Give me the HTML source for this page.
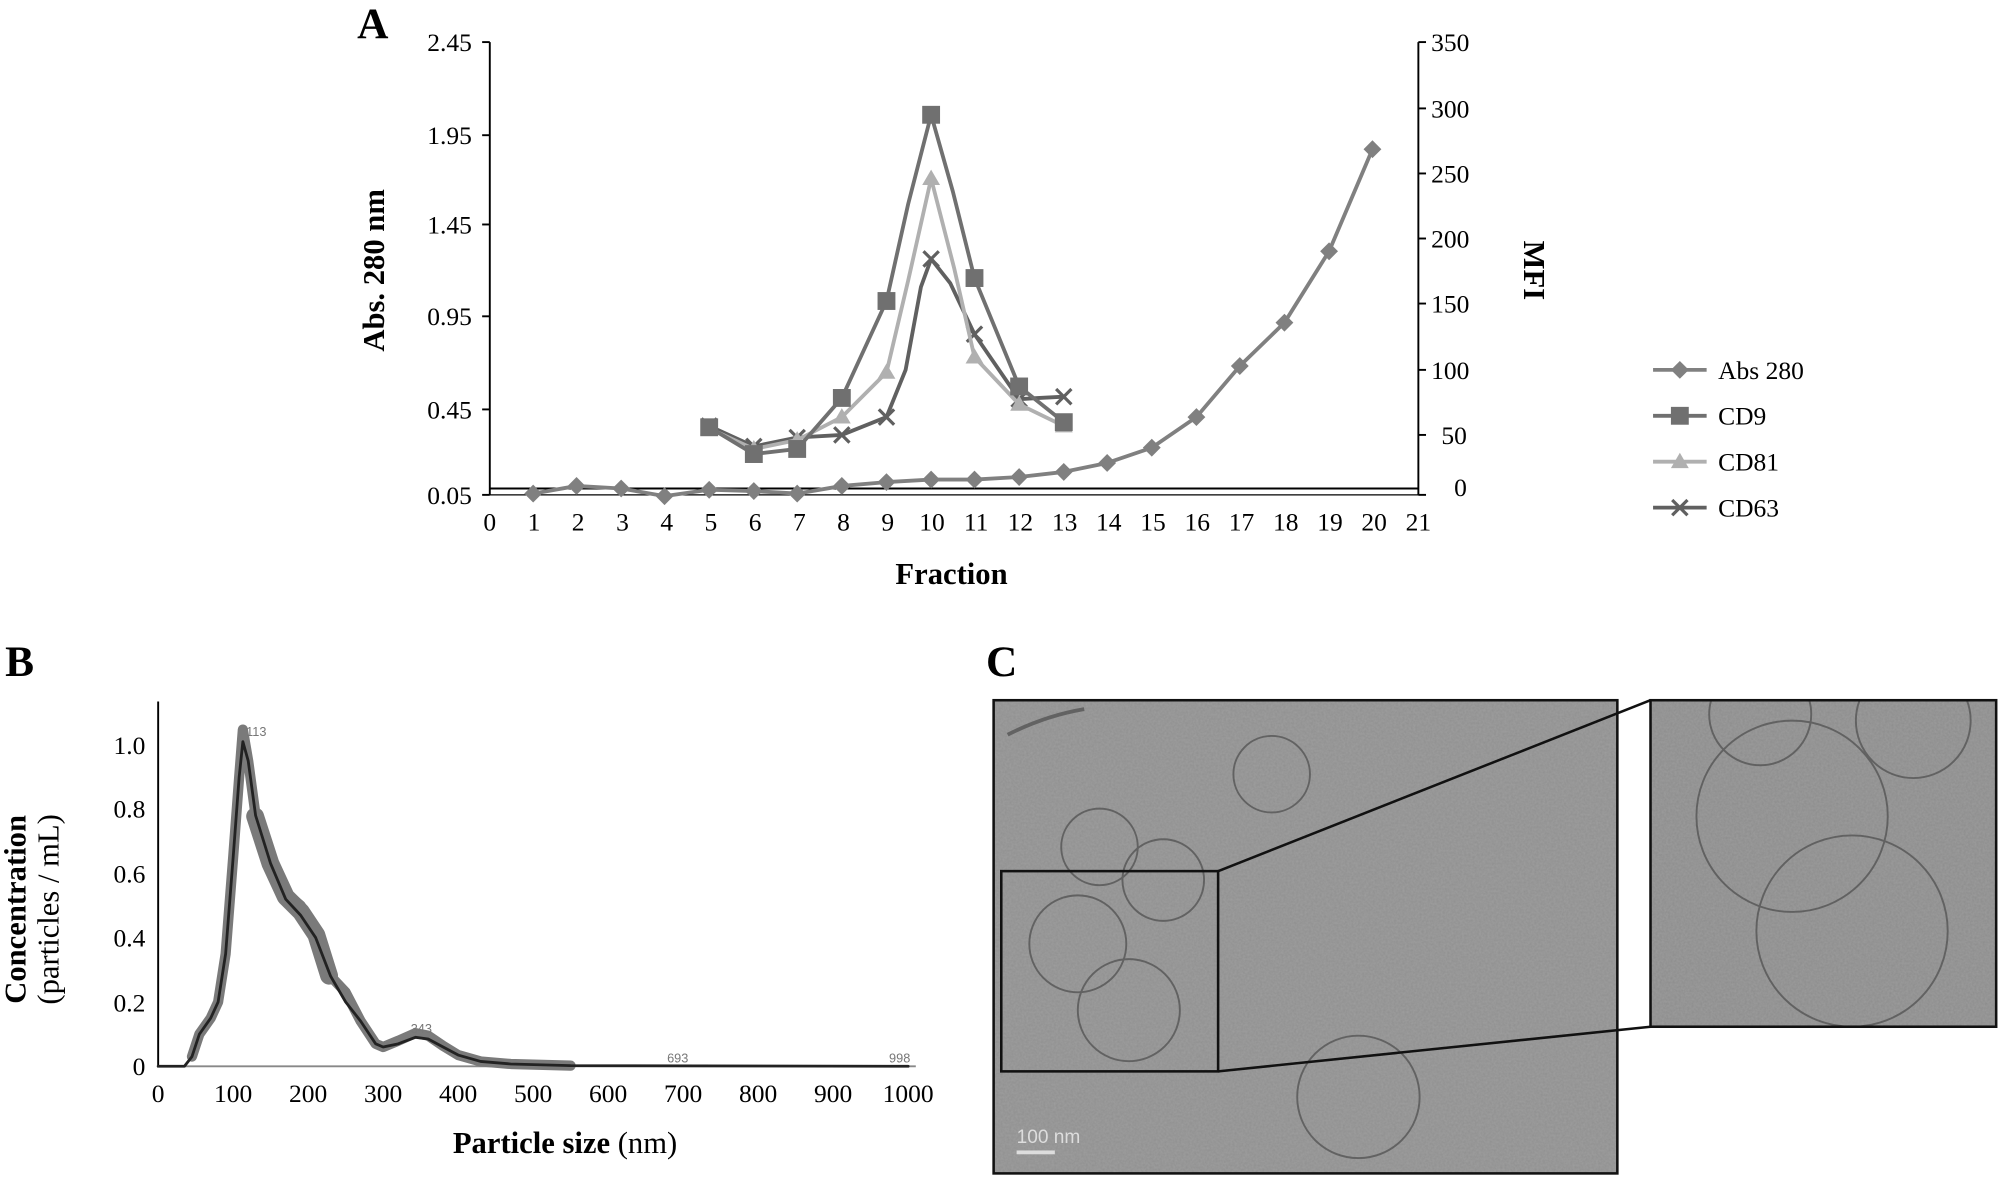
<!DOCTYPE html>
<html><head><meta charset="utf-8"><style>
html,body{margin:0;padding:0;background:#fff}
svg{display:block}
text{font-family:"Liberation Serif",serif}
</style></head><body>
<svg width="2000" height="1178" viewBox="0 0 1568 923.6" preserveAspectRatio="none" xmlns="http://www.w3.org/2000/svg">
<defs>
<filter id="noise" x="0" y="0" width="100%" height="100%">
<feTurbulence type="fractalNoise" baseFrequency="0.6" numOctaves="2" seed="3"/>
<feColorMatrix type="matrix" values="0 0 0 0 0.5  0 0 0 0 0.5  0 0 0 0 0.5  0 0 0 0.35 0"/>
</filter>
<clipPath id="c1"><rect x="779" y="549" width="489" height="371"/></clipPath>
<clipPath id="c2"><rect x="1294" y="549" width="271" height="256"/></clipPath>
</defs>
<!-- Panel A -->
<text x="280" y="30" font-size="34" font-weight="bold">A</text>
<g stroke="#000" stroke-width="1.5" fill="none">
<line x1="384" y1="33" x2="384" y2="388"/>
<line x1="1112" y1="33" x2="1112" y2="388"/>
<line x1="384" y1="383" x2="1112" y2="383"/>
<line x1="384" y1="388" x2="1112" y2="388" stroke-width="1"/>
<line x1="378" y1="33" x2="384" y2="33"/><line x1="378" y1="106" x2="384" y2="106"/><line x1="378" y1="176" x2="384" y2="176"/><line x1="378" y1="248" x2="384" y2="248"/><line x1="378" y1="321" x2="384" y2="321"/><line x1="378" y1="388" x2="384" y2="388"/>
<line x1="1112" y1="33" x2="1118" y2="33"/><line x1="1112" y1="85" x2="1118" y2="85"/><line x1="1112" y1="136" x2="1118" y2="136"/><line x1="1112" y1="187" x2="1118" y2="187"/><line x1="1112" y1="238" x2="1118" y2="238"/><line x1="1112" y1="290" x2="1118" y2="290"/><line x1="1112" y1="341" x2="1118" y2="341"/><line x1="1112" y1="388" x2="1118" y2="388"/>
</g>
<g font-size="20" text-anchor="end">
<text x="370" y="40">2.45</text><text x="370" y="113">1.95</text><text x="370" y="183">1.45</text><text x="370" y="255">0.95</text><text x="370" y="328">0.45</text><text x="370" y="395">0.05</text>
</g>
<g font-size="20" text-anchor="start">
<text x="1122" y="40">350</text><text x="1122" y="92">300</text><text x="1122" y="143">250</text><text x="1122" y="194">200</text><text x="1122" y="245">150</text><text x="1122" y="297">100</text><text x="1130" y="348">50</text><text x="1140" y="389">0</text>
</g>
<g font-size="20" text-anchor="middle">
<text x="384" y="416">0</text><text x="418.7" y="416">1</text><text x="453.3" y="416">2</text><text x="488" y="416">3</text><text x="522.7" y="416">4</text><text x="557.3" y="416">5</text><text x="592" y="416">6</text><text x="626.7" y="416">7</text><text x="661.3" y="416">8</text><text x="696" y="416">9</text><text x="730.7" y="416">10</text><text x="765.3" y="416">11</text><text x="800" y="416">12</text><text x="834.7" y="416">13</text><text x="869.3" y="416">14</text><text x="904" y="416">15</text><text x="938.7" y="416">16</text><text x="973.3" y="416">17</text><text x="1008" y="416">18</text><text x="1042.7" y="416">19</text><text x="1077.3" y="416">20</text><text x="1112" y="416">21</text>
</g>
<text x="746" y="458" font-size="24" font-weight="bold" text-anchor="middle">Fraction</text>
<text transform="translate(301,212) rotate(-90)" font-size="24" font-weight="bold" text-anchor="middle">Abs. 280 nm</text>
<text transform="translate(1195,212) rotate(90)" font-size="24" font-weight="bold" text-anchor="middle">MFI</text>
<!-- Abs 280 -->
<polyline fill="none" stroke="#808080" stroke-width="3" stroke-linejoin="round" points="418,387 452,381 487,383 521,389 556,384 591,385 625,387 660,381 695,378 730,376 764,376 799,374 834,370 868,363 903,351 938,327 972,287 1007,253 1042,197 1076,117"/>
<g fill="#808080">
<path d="M418,380 l7,7 l-7,7 l-7,-7z M452,374 l7,7 l-7,7 l-7,-7z M487,376 l7,7 l-7,7 l-7,-7z M521,382 l7,7 l-7,7 l-7,-7z M556,377 l7,7 l-7,7 l-7,-7z M591,378 l7,7 l-7,7 l-7,-7z M625,380 l7,7 l-7,7 l-7,-7z M660,374 l7,7 l-7,7 l-7,-7z M695,371 l7,7 l-7,7 l-7,-7z M730,369 l7,7 l-7,7 l-7,-7z M764,369 l7,7 l-7,7 l-7,-7z M799,367 l7,7 l-7,7 l-7,-7z M834,363 l7,7 l-7,7 l-7,-7z M868,356 l7,7 l-7,7 l-7,-7z M903,344 l7,7 l-7,7 l-7,-7z M938,320 l7,7 l-7,7 l-7,-7z M972,280 l7,7 l-7,7 l-7,-7z M1007,246 l7,7 l-7,7 l-7,-7z M1042,190 l7,7 l-7,7 l-7,-7z M1076,110 l7,7 l-7,7 l-7,-7z"/>
</g>
<!-- CD63 -->
<polyline fill="none" stroke="#606060" stroke-width="3" stroke-linejoin="round" points="556,334 591,350 625,343 660,341 695,327 710,290 722,225 730,203 745,222 764,262 799,313 815,312 834,311"/>
<g stroke="#606060" stroke-width="2.5">
<path d="M550,328l12,12M562,328l-12,12 M585,344l12,12M597,344l-12,12 M619,337l12,12M631,337l-12,12 M654,335l12,12M666,335l-12,12 M689,321l12,12M701,321l-12,12 M724,197l12,12M736,197l-12,12 M758,256l12,12M770,256l-12,12 M793,307l12,12M805,307l-12,12 M828,305l12,12M840,305l-12,12"/>
</g>
<!-- CD81 -->
<polyline fill="none" stroke="#b0b0b0" stroke-width="3" stroke-linejoin="round" points="556,336 591,352 625,345 660,327 695,292 712,220 730,140 748,210 764,280 799,317 834,334"/>
<g fill="#b0b0b0">
<path d="M556,329l7,12h-14z M591,345l7,12h-14z M625,338l7,12h-14z M660,320l7,12h-14z M695,285l7,12h-14z M730,133l7,12h-14z M764,273l7,12h-14z M799,310l7,12h-14z M834,327l7,12h-14z"/>
</g>
<!-- CD9 -->
<polyline fill="none" stroke="#707070" stroke-width="3" stroke-linejoin="round" points="556,335 591,356 625,352 660,312 695,236 712,160 730,90 747,150 764,218 799,303 834,331"/>
<g fill="#707070">
<rect x="549" y="328" width="14" height="14"/><rect x="584" y="349" width="14" height="14"/><rect x="618" y="345" width="14" height="14"/><rect x="653" y="305" width="14" height="14"/><rect x="688" y="229" width="14" height="14"/><rect x="723" y="83" width="14" height="14"/><rect x="757" y="211" width="14" height="14"/><rect x="792" y="296" width="14" height="14"/><rect x="827" y="324" width="14" height="14"/>
</g>
<!-- Legend -->
<g stroke-width="3">
<line x1="1296" y1="290" x2="1338" y2="290" stroke="#808080"/>
<line x1="1296" y1="326" x2="1338" y2="326" stroke="#707070"/>
<line x1="1296" y1="362" x2="1338" y2="362" stroke="#b0b0b0"/>
<line x1="1296" y1="398" x2="1338" y2="398" stroke="#606060"/>
</g>
<path d="M1317,283l7,7l-7,7l-7,-7z" fill="#808080"/>
<rect x="1310" y="319" width="14" height="14" fill="#707070"/>
<path d="M1317,355l7,12h-14z" fill="#b0b0b0"/>
<path d="M1311,392l12,12M1323,392l-12,12" stroke="#606060" stroke-width="2.5"/>
<g font-size="20"><text x="1347" y="297">Abs 280</text><text x="1347" y="333">CD9</text><text x="1347" y="369">CD81</text><text x="1347" y="405">CD63</text></g>

<!-- Panel B -->
<text x="4" y="530" font-size="34" font-weight="bold">B</text>
<g stroke="#000" stroke-width="1.5"><line x1="124" y1="550" x2="124" y2="837"/><line x1="124" y1="836" x2="718" y2="836" stroke="#888"/></g>
<g font-size="20" text-anchor="end">
<text x="114" y="591">1.0</text><text x="114" y="641">0.8</text><text x="114" y="692">0.6</text><text x="114" y="742">0.4</text><text x="114" y="793">0.2</text><text x="114" y="843">0</text>
</g>
<g font-size="20" text-anchor="middle">
<text x="124" y="864">0</text><text x="182.8" y="864">100</text><text x="241.6" y="864">200</text><text x="300.4" y="864">300</text><text x="359.2" y="864">400</text><text x="418" y="864">500</text><text x="476.8" y="864">600</text><text x="535.6" y="864">700</text><text x="594.4" y="864">800</text><text x="653.2" y="864">900</text><text x="712" y="864">1000</text>
</g>
<g fill="none" stroke-linejoin="round" stroke-linecap="round">
<polyline stroke="#7a7a7a" stroke-width="8" points="150.5,828.4 156.3,810.8 165.2,798.2 171,785.6 176.9,747.8 182.8,672.2 187.5,609.2 190.4,572 194.6,596.6 200.4,639.4 212.2,677.2 224,700 235.7,710 247.5,728 259.2,765.4 271,778 282.8,800.7 294.5,818.4 300.4,820.9 312.2,816 325.7,810 335.7,812 347.4,820 359.2,827.2 376.8,832.2 400.4,834.2 447.4,835.5"/>
<polyline stroke="#7a7a7a" stroke-width="14" points="200,640 212,677 224,703 236,715 248,733 258,765"/>
<polyline stroke="#222" stroke-width="2.2" points="124,836 144.6,836 150.5,828.4 156.3,810.8 165.2,798.2 171,785.6 176.9,747.8 182.8,672.2 187.5,609.2 190.4,581.5 194.6,596.6 200.4,639.4 212.2,677.2 224,705 235.7,717.6 247.5,735.2 259.2,765.4 271,785.6 282.8,800.7 294.5,818.4 300.4,820.9 312.2,818.4 325.7,813.3 335.7,814.6 347.4,820.9 359.2,827.2 376.8,832.2 400.4,834.2 447.4,835.5 712,836"/>
</g>
<g font-size="10" fill="#777">
<text x="193" y="577" style="font-family:'Liberation Sans',sans-serif">113</text>
<text x="322" y="810" style="font-family:'Liberation Sans',sans-serif">343</text>
<text x="523" y="833" style="font-family:'Liberation Sans',sans-serif">693</text>
<text x="697" y="833" style="font-family:'Liberation Sans',sans-serif">998</text>
</g>
<text transform="translate(20,713) rotate(-90)" font-size="24" font-weight="bold" text-anchor="middle">Concentration</text>
<text transform="translate(46,713) rotate(-90)" font-size="24" text-anchor="middle">(particles / mL)</text>
<text x="443" y="904" font-size="24" text-anchor="middle"><tspan font-weight="bold">Particle size</tspan> (nm)</text>

<!-- Panel C -->
<text x="773" y="530" font-size="34" font-weight="bold">C</text>
<rect x="779" y="549" width="489" height="371" fill="#8f8f8f"/>
<rect x="779" y="549" width="489" height="371" filter="url(#noise)"/>
<rect x="1294" y="549" width="271" height="256" fill="#8c8c8c"/>
<rect x="1294" y="549" width="271" height="256" filter="url(#noise)"/>
<g fill="none" stroke="#555" stroke-width="1.5" opacity="0.8" clip-path="url(#c1)">
<circle cx="997" cy="607" r="30"/><circle cx="862" cy="664" r="30"/><circle cx="912" cy="690" r="32"/>
<circle cx="845" cy="740" r="38"/><circle cx="885" cy="792" r="40"/><circle cx="1065" cy="860" r="48"/>
<path d="M790,576 q30,-15 60,-20" stroke-width="3"/>
</g>
<g fill="none" stroke="#555" stroke-width="1.5" opacity="0.8" clip-path="url(#c2)">
<circle cx="1405" cy="640" r="75"/><circle cx="1452" cy="730" r="75"/><circle cx="1380" cy="560" r="40"/><circle cx="1500" cy="565" r="45"/>
</g>
<rect x="779" y="549" width="489" height="371" fill="none" stroke="#111" stroke-width="2"/>
<rect x="1294" y="549" width="271" height="256" fill="none" stroke="#111" stroke-width="2"/>
<rect x="785" y="683" width="170" height="157" fill="none" stroke="#111" stroke-width="2"/>
<line x1="955" y1="683" x2="1294" y2="549" stroke="#111" stroke-width="2"/>
<line x1="955" y1="840" x2="1294" y2="805" stroke="#111" stroke-width="2"/>
<text x="797" y="896" font-size="15" fill="#ddd" style="font-family:'Liberation Sans',sans-serif">100 nm</text>
<rect x="797" y="902" width="30" height="3" fill="#ddd"/>
</svg>
</body></html>
